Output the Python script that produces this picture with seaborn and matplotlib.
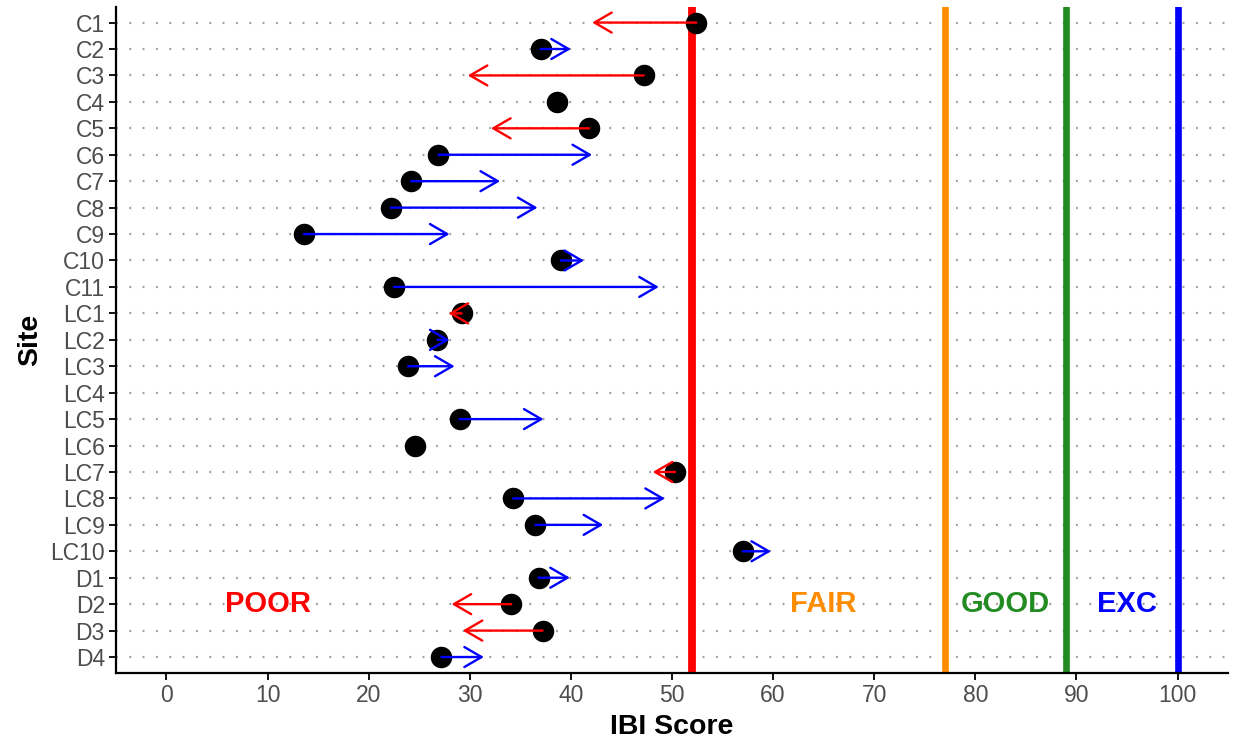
import numpy as np
import pandas as pd
import matplotlib
matplotlib.use("Agg")
import matplotlib.pyplot as plt
import seaborn as sns

sites = ["C1", "C2", "C3", "C4", "C5", "C6", "C7", "C8", "C9", "C10", "C11",
         "LC1", "LC2", "LC3", "LC4", "LC5", "LC6", "LC7", "LC8", "LC9", "LC10",
         "D1", "D2", "D3", "D4"]
score_start = [52.4, 37.0, 47.2, 38.6, 41.8, 26.9, 24.2, 22.2, 13.6, 39.0, 22.5,
               29.2, 26.8, 23.9, np.nan, 29.0, 24.6, 50.3, 34.3, 36.5, 57.0,
               36.8, 34.1, 37.2, 27.2]
score_end = [42.1, 40.0, 29.8, np.nan, 32.1, 42.1, 33.0, 36.7, 28.0, 41.3, 48.7,
             27.9, 28.0, 28.5, np.nan, 37.3, np.nan, 48.1, 49.3, 43.2, 59.8,
             39.9, 28.2, 29.3, 31.4]

class_breaks = [52, 77, 89, 100]
class_colors = ["#FF0000", "#FF8C00", "#228B22", "#0000FF"]
class_widths = [5.6, 4.8, 4.8, 4.8]
class_names = ["POOR", "FAIR", "GOOD", "EXC"]
class_label_x = [10, 65, 83, 95]
class_label_site = "D2"

plt.rcParams["font.family"] = ["Liberation Sans", "DejaVu Sans"]
sns.set_style("white")
plt.rcParams["font.family"] = ["Liberation Sans", "DejaVu Sans"]

df = pd.DataFrame({"site": sites, "start": score_start, "end": score_end})
df["ypos"] = np.arange(len(df))

fig = plt.figure(figsize=(12.33, 7.46), dpi=100)
ax = fig.add_axes([0.094, 0.098, 0.902, 0.893])

# dotted horizontal grid
for y in df["ypos"]:
    ax.axhline(y, color="#9a9a9a", lw=1.6, ls=(0, (0.8, 5.2)), zorder=0.5)

# class threshold lines
for xb, c, w in zip(class_breaks, class_colors, class_widths):
    ax.axvline(xb, color=c, lw=w, zorder=1)

# points
sns.scatterplot(data=df.dropna(subset=["start"]), x="start", y="ypos", ax=ax,
                color="black", s=240, edgecolor="black", linewidth=0, zorder=3,
                legend=False)

# arrows
for _, r in df.dropna(subset=["start", "end"]).iterrows():
    col = "#0000FF" if r["end"] > r["start"] else "#FF0000"
    ax.annotate("", xy=(r["end"], r["ypos"]), xytext=(r["start"], r["ypos"]),
                arrowprops=dict(arrowstyle="->,head_length=0.62,head_width=0.36",
                                color=col, lw=1.7, shrinkA=0, shrinkB=0,
                                mutation_scale=20),
                zorder=4)

# class labels
ylab = sites.index(class_label_site)
for name, xl, c in zip(class_names, class_label_x, class_colors):
    ax.text(xl, ylab, name, color=c, fontsize=21, fontweight="bold",
            ha="center", va="center", zorder=5)

ax.set_xlim(-5, 105)
ax.set_ylim(len(sites) - 1 + 0.6, -0.6)
ax.set_xticks(np.arange(0, 101, 10))
ax.set_yticks(df["ypos"])
ax.set_yticklabels(sites)

for s in ["top", "right"]:
    ax.spines[s].set_visible(False)
for s in ["left", "bottom"]:
    ax.spines[s].set_color("black")
    ax.spines[s].set_linewidth(1.6)

ax.tick_params(axis="both", which="major", length=5, width=1.3, color="black",
               labelsize=16.5, labelcolor="#4D4D4D", pad=3, direction="out",
               bottom=True, left=True)

ax.set_xlabel("IBI Score", fontsize=20.5, fontweight="bold", color="black", labelpad=5)
ax.set_ylabel("Site", fontsize=20.5, fontweight="bold", color="black", labelpad=5)

fig.savefig("out.png", dpi=100)
